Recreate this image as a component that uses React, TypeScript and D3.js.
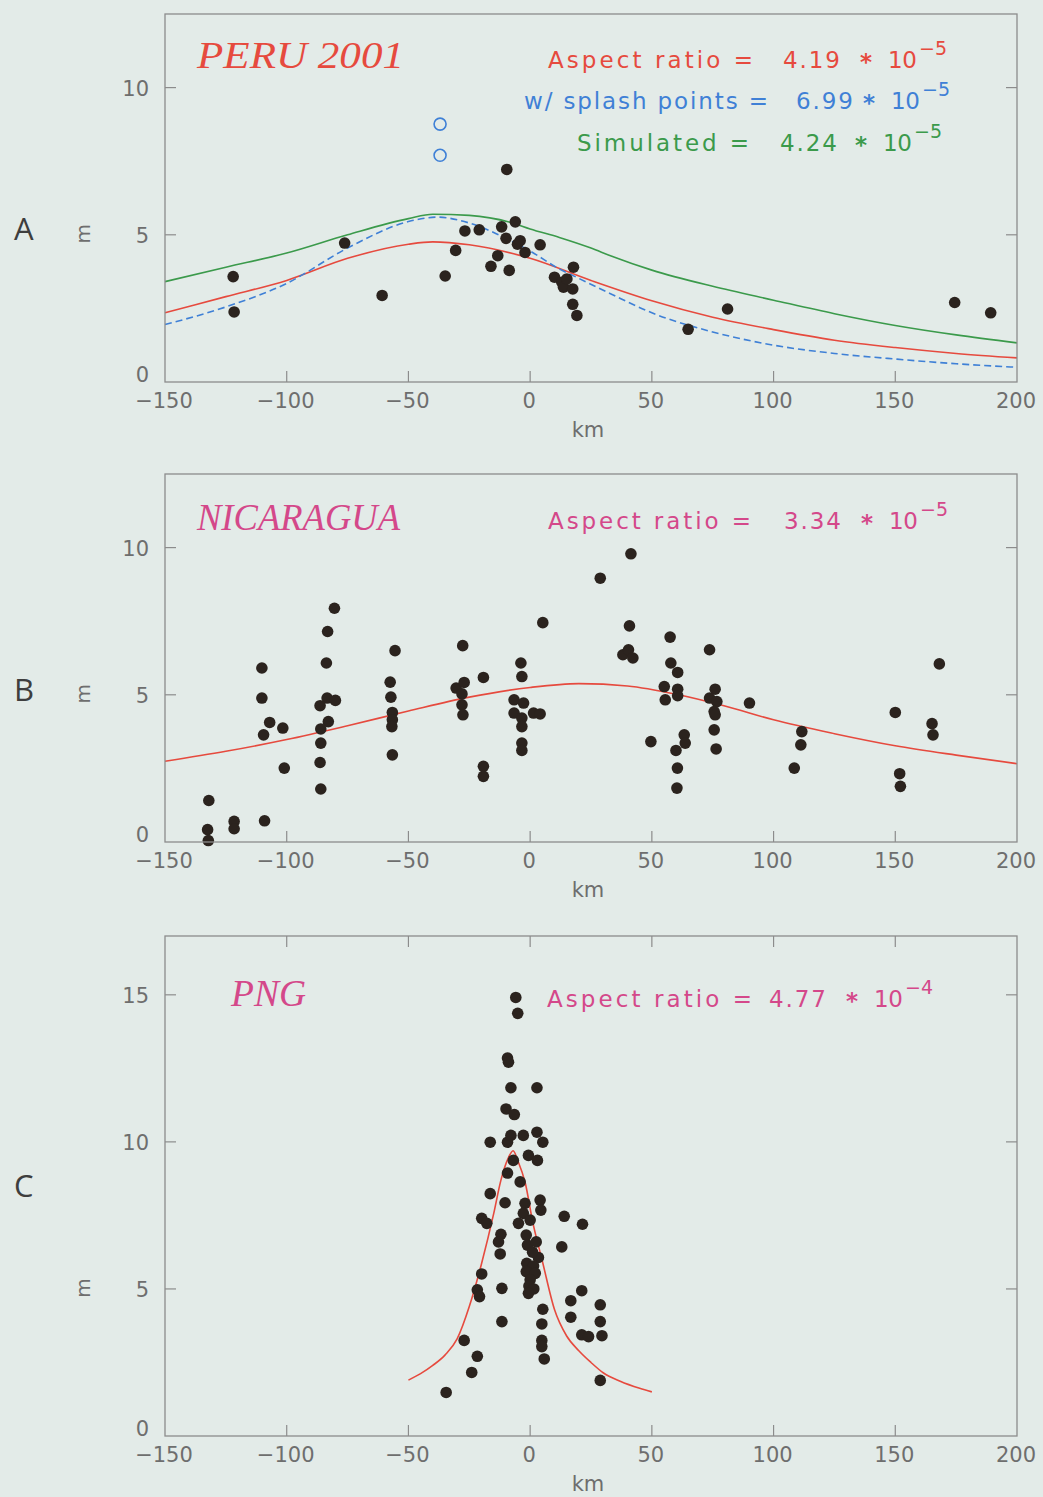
import * as d3 from "d3";

// x axis shared by all three panels (km)
const xTicks = [-150, -100, -50, 0, 50, 100, 150, 200];

// ---------- Panel A : Peru 2001 ----------
const peruDots = [
  [-122, 3.58], [-121.6, 2.38], [-76.2, 4.72], [-60.8, 2.94], [-34.9, 3.6], [-30.6, 4.47],
  [-26.8, 5.13], [-20.9, 5.17], [-16.1, 3.93], [-13.3, 4.29], [-11.7, 5.27], [-9.9, 4.88],
  [-9.6, 7.22], [-8.6, 3.79], [-6.1, 5.44], [-5.2, 4.68], [-4.1, 4.8], [-2.1, 4.4], [4.1, 4.66],
  [10, 3.56], [13, 3.39], [13.7, 3.22], [15.1, 3.5], [17.5, 3.16], [17.8, 3.9], [17.5, 2.64],
  [19.2, 2.26], [64.9, 1.79], [81.1, 2.48], [174.4, 2.7], [189.2, 2.35],
];
const peruSplash = [[-37, 8.76], [-37, 7.7]];
const peruFit = [
  [-150, 2.35], [-125, 2.9], [-100, 3.45], [-75, 4.2], [-50, 4.68], [-40, 4.76], [-25, 4.66],
  [0, 4.2], [25, 3.45], [50, 2.76], [75, 2.2], [100, 1.78], [125, 1.42], [150, 1.17],
  [175, 0.97], [200, 0.82],
];
const peruSplashFit = [
  [-150, 1.95], [-125, 2.55], [-100, 3.35], [-75, 4.55], [-50, 5.45], [-38, 5.6], [-25, 5.4],
  [-8, 4.8], [0, 4.45], [12, 3.84], [19, 3.56], [33, 3.0], [50, 2.35], [75, 1.7], [100, 1.25],
  [125, 0.97], [150, 0.78], [175, 0.62], [200, 0.5],
];
const peruSimulated = [
  [-150, 3.41], [-125, 3.9], [-100, 4.38], [-75, 5.0], [-50, 5.55], [-40, 5.7], [-25, 5.66],
  [-8, 5.42], [0, 5.2], [12, 4.91], [25, 4.55], [33, 4.29], [50, 3.8], [75, 3.25], [100, 2.78],
  [125, 2.32], [150, 1.92], [175, 1.6], [200, 1.33],
];

// ---------- Panel B : Nicaragua ----------
const nicDots = [
  [-132, 1.41], [-132.5, 0.42], [-132.2, 0.05], [-121.6, 0.7], [-121.6, 0.45], [-109.1, 0.72],
  [-110.2, 5.91], [-110.2, 4.89], [-107, 4.06], [-109.5, 3.64], [-101.6, 3.87], [-101, 2.51],
  [-80.4, 7.94], [-83.2, 7.15], [-83.7, 6.08], [-83.4, 4.89], [-80, 4.81], [-86.3, 4.63],
  [-82.9, 4.09], [-86, 3.84], [-86, 3.36], [-86.3, 2.7], [-86, 1.8],
  [-55.5, 6.5], [-57.5, 5.43], [-57.2, 4.92], [-56.6, 4.4], [-56.6, 4.15], [-56.8, 3.92], [-56.6, 2.96],
  [-27.7, 6.67], [-30.4, 5.23], [-27.1, 5.42], [-28, 5.03], [-28, 4.66], [-27.6, 4.32],
  [-19.2, 5.59], [-19.2, 2.57], [-19.2, 2.23],
  [-3.8, 6.08], [-3.4, 5.62], [-6.6, 4.83], [-2.7, 4.72], [-6.6, 4.38], [-3.4, 4.21], [1.4, 4.38],
  [4.1, 4.35], [-3.4, 3.92], [-3.4, 3.36], [-3.4, 3.11],
  [5.2, 7.45], [28.8, 8.96], [41.4, 9.79], [40.8, 7.34], [38.1, 6.36], [40.4, 6.53], [42.2, 6.25],
  [57.5, 6.96], [57.8, 6.08], [60.6, 5.76], [55.1, 5.28], [60.6, 5.19], [60.6, 4.97], [55.5, 4.83],
  [49.6, 3.41], [63.3, 3.64], [63.7, 3.36], [59.9, 3.11], [60.5, 2.51], [60.3, 1.83],
  [73.7, 6.53], [76, 5.19], [73.7, 4.89], [76.7, 4.77], [75.6, 4.43], [76, 4.32], [75.6, 3.81], [76.4, 3.16],
  [90.1, 4.72], [111.6, 3.75], [111.2, 3.3], [108.5, 2.51],
  [150, 4.4], [151.8, 2.32], [152.1, 1.89], [165.1, 4.02], [165.5, 3.64], [168.1, 6.05],
];
const nicFit = [
  [-150, 2.74], [-125, 3.08], [-100, 3.48], [-75, 3.95], [-50, 4.45], [-25, 4.92], [0, 5.25],
  [20, 5.38], [40, 5.3], [60, 5.02], [80, 4.62], [100, 4.15], [125, 3.68], [150, 3.27],
  [175, 2.95], [200, 2.66],
];

// ---------- Panel C : PNG ----------
const pngDots = [
  [-5.9, 14.91], [-5.1, 14.37], [-9.3, 12.85], [-8.9, 12.71], [-7.9, 11.84], [2.8, 11.84],
  [-9.9, 11.12], [-6.5, 10.93], [-16.4, 9.99], [-9.3, 9.99], [-7.9, 10.22], [-2.8, 10.22],
  [2.8, 10.33], [5.2, 9.99], [-0.7, 9.54], [3, 9.37], [-6.9, 9.37], [-9.3, 8.94], [-4.1, 8.64],
  [-16.4, 8.24], [-10.3, 7.93], [-2.1, 7.91], [4.1, 8.02], [4.4, 7.68], [-2.8, 7.57],
  [-19.9, 7.4], [-17.8, 7.23], [-4.8, 7.23], [0, 7.34], [14, 7.47], [21.5, 7.2],
  [-12, 6.86], [-1.6, 6.83], [-13, 6.6], [-1.1, 6.49], [13, 6.43], [-12.3, 6.19], [3.4, 6.07],
  [1, 6.25], [2.5, 6.6], [-1.4, 5.87], [1.4, 5.78], [-1.6, 5.59], [2.1, 5.53], [-19.9, 5.51],
  [0, 5.31], [-0.5, 5.1], [1.5, 5.0], [-21.7, 4.97], [-11.6, 5.02], [-0.7, 4.85], [-20.8, 4.74],
  [21.2, 4.94], [16.7, 4.6], [28.8, 4.46], [5.2, 4.31], [16.7, 4.04], [28.8, 3.89], [4.8, 3.81],
  [-11.6, 3.89], [21.2, 3.44], [24, 3.38], [29.5, 3.41], [-27.1, 3.25], [4.8, 3.25], [4.8, 3.04],
  [-21.7, 2.71], [5.8, 2.62], [-24, 2.16], [28.8, 1.89], [-34.5, 1.48],
];
const pngFit = [
  [-50, 1.9], [-45, 2.12], [-40, 2.4], [-35, 2.75], [-30, 3.3], [-25, 4.4], [-20, 5.85],
  [-15, 7.55], [-12, 8.7], [-9, 9.45], [-7, 9.7], [-5, 9.35], [-2, 8.6], [1, 7.3], [5, 5.95],
  [10, 4.3], [15, 3.4], [20, 2.9], [25, 2.5], [30, 2.15], [37, 1.86], [45, 1.62], [50, 1.5],
];

const BG = "#e3ebe8";
const AXIS = "#8c8c8c";
const LABEL = "#6e6e6e";
const DOT = "#2b231e";
const RED = "#e64a3e";
const MAGENTA = "#d4488a";
const BLUE = "#3f80d6";
const GREEN = "#3b9a4b";
const SANS = "'DejaVu Sans', sans-serif";
const SERIF = "'Liberation Serif', 'DejaVu Serif', serif";

const X0 = 165;
const X1 = 1017;
const TICK = 11;

const panels = [
  {
    letter: "A", letterY: 240, top: 14, bottom: 382, yMax: 12.5, yTicks: [0, 5, 10], topTicks: false,
    title: "PERU 2001", titleColor: RED, titleX: 197, titleEnd: 404, titleY: 68,
    dots: peruDots, open: peruSplash,
    curves: [
      { data: peruSimulated, color: GREEN, dash: null },
      { data: peruFit, color: RED, dash: null },
      { data: peruSplashFit, color: BLUE, dash: "7 4" },
    ],
    notes: [
      { label: "Aspect ratio =", value: "4.19", exp: "−5", color: RED, y: 68, lx: 548, lw: 205, vx: 783, x10: 888 },
      { label: "w/ splash points =", value: "6.99", exp: "−5", color: BLUE, y: 109, lx: 524, lw: 244, vx: 796, x10: 891 },
      { label: "Simulated =", value: "4.24", exp: "−5", color: GREEN, y: 151, lx: 577, lw: 172, vx: 780, x10: 883 },
    ],
  },
  {
    letter: "B", letterY: 701, top: 474, bottom: 842, yMax: 12.5, yTicks: [0, 5, 10], topTicks: false,
    title: "NICARAGUA", titleColor: MAGENTA, titleX: 197, titleEnd: 400, titleY: 530,
    dots: nicDots, open: [],
    curves: [{ data: nicFit, color: RED, dash: null }],
    notes: [
      { label: "Aspect ratio =", value: "3.34", exp: "−5", color: MAGENTA, y: 529, lx: 548, lw: 203, vx: 784, x10: 889 },
    ],
  },
  {
    letter: "C", letterY: 1197, top: 936, bottom: 1436, yMax: 17, yTicks: [0, 5, 10, 15], topTicks: true,
    title: "PNG", titleColor: MAGENTA, titleX: 231, titleEnd: 306, titleY: 1006,
    dots: pngDots, open: [],
    curves: [{ data: pngFit, color: RED, dash: null }],
    notes: [
      { label: "Aspect ratio =", value: "4.77", exp: "−4", color: MAGENTA, y: 1007, lx: 547, lw: 205, vx: 769, x10: 874 },
    ],
  },
];

const Panel = ({ p }) => {
  const x = d3.scaleLinear().domain([-150, 200]).range([X0, X1]);
  const y = d3.scaleLinear().domain([0, p.yMax]).range([p.bottom, p.top]);
  const line = d3.line<number[]>()
    .x((d) => x(d[0]))
    .y((d) => y(d[1]))
    .curve(d3.curveMonotoneX);
  const inner = xTicks.slice(1, -1);
  const innerY = p.yTicks.filter((t) => t > 0);
  const midY = y(5) - 1;

  return (
    <g>
      {/* curves */}
      {p.curves.map((c, i) => (
        <path key={i} d={line(c.data) || ""} fill="none" stroke={c.color} strokeWidth={1.6}
          strokeDasharray={c.dash || undefined} />
      ))}
      {/* dots */}
      {p.dots.map((d, i) => (
        <circle key={i} cx={x(d[0])} cy={y(d[1])} r={5.8} fill={DOT} />
      ))}
      {p.open.map((d, i) => (
        <circle key={i} cx={x(d[0])} cy={y(d[1])} r={6} fill="none" stroke={BLUE} strokeWidth={1.6} />
      ))}

      {/* frame */}
      <rect x={X0} y={p.top} width={X1 - X0} height={p.bottom - p.top} fill="none" stroke={AXIS} strokeWidth={1.3} />
      {inner.map((t) => (
        <line key={"b" + t} x1={x(t)} x2={x(t)} y1={p.bottom} y2={p.bottom - TICK} stroke={AXIS} strokeWidth={1.2} />
      ))}
      {p.topTicks && inner.map((t) => (
        <line key={"t" + t} x1={x(t)} x2={x(t)} y1={p.top} y2={p.top + TICK} stroke={AXIS} strokeWidth={1.2} />
      ))}
      {innerY.map((t) => (
        <g key={"y" + t}>
          <line x1={X0} x2={X0 + TICK} y1={y(t)} y2={y(t)} stroke={AXIS} strokeWidth={1.2} />
          <line x1={X1} x2={X1 - TICK} y1={y(t)} y2={y(t)} stroke={AXIS} strokeWidth={1.2} />
        </g>
      ))}

      {/* tick labels */}
      {xTicks.map((t) => (
        <text key={"xl" + t} x={x(t) - 1} y={p.bottom + 26} textAnchor="middle" fontFamily={SANS}
          fontSize={21} fill={LABEL}>{t < 0 ? "−" + Math.abs(t) : String(t)}</text>
      ))}
      {p.yTicks.map((t) => (
        <text key={"yl" + t} x={149} y={y(t) + 8 - (t === 0 ? 8 : 0)} textAnchor="end" fontFamily={SANS}
          fontSize={21} fill={LABEL}>{t}</text>
      ))}
      <text x={588} y={p.bottom + 55} textAnchor="middle" fontFamily={SANS} fontSize={21} fill={LABEL}>km</text>
      <text transform={`translate(${90},${midY}) rotate(-90)`} textAnchor="middle" fontFamily={SANS}
        fontSize={20} fill={LABEL}>m</text>
      <text x={14} y={p.letterY} fontFamily="'Open Sans', sans-serif" fontSize={31} fill="#3e3e3e">{p.letter}</text>

      {/* title */}
      <text x={p.titleX} y={p.titleY} fontFamily={SERIF} fontStyle="italic" fontSize={37} fill={p.titleColor}
        textLength={p.titleEnd - p.titleX} lengthAdjust="spacingAndGlyphs">{p.title}</text>

      {/* aspect-ratio notes */}
      {p.notes.map((n, i) => (
        <g key={"n" + i} fill={n.color} fontFamily={SANS} fontSize={23}>
          <text x={n.lx} y={n.y} textLength={n.lw} lengthAdjust="spacing">{n.label}</text>
          <text x={n.vx} y={n.y} textLength={57} lengthAdjust="spacing">{n.value}</text>
          <text x={n.x10 - 22} y={n.y + 2} textAnchor="middle" fontSize={23} fontWeight="bold">*</text>
          <text x={n.x10} y={n.y} textLength={29} lengthAdjust="spacing">10</text>
          <text x={n.x10 + 31} y={n.y - 13} fontSize={19}>{n.exp}</text>
        </g>
      ))}
    </g>
  );
};

export default function App() {
  return (
    <div style={{ position: "absolute", left: 0, top: 0 }}>
      <svg width={1043} height={1497} style={{ display: "block" }}>
        <rect x={0} y={0} width={1043} height={1497} fill={BG} />
        {panels.map((p) => (
          <Panel key={p.letter} p={p} />
        ))}
      </svg>
    </div>
  );
}
